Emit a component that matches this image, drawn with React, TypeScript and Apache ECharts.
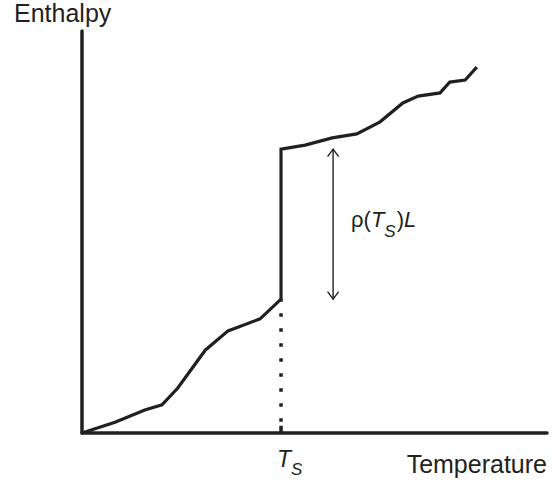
import { useEffect, useRef } from 'react';
import * as echarts from 'echarts';

// Temperature (x) and enthalpy (y) of the sketched curve, arbitrary units 0..100
const temperature = [0, 7.1, 13.5, 17.2, 20.6, 26.5, 31.4, 38.3, 42.8, 42.8, 48.0, 53.8, 59.1, 64.1, 69.0, 72.3, 77.0, 79.1, 82.4, 84.9];
const enthalpy = [0, 2.7, 5.7, 7.0, 11.2, 20.6, 25.4, 28.4, 33.3, 70.6, 71.6, 73.4, 74.4, 77.4, 82.1, 83.8, 84.6, 87.3, 87.8, 91.0];

// Melting temperature and the enthalpy jump
const meltingT = 42.8;
const enthalpyBelow = 33.3;
const enthalpyAbove = 70.6;
const arrowT = 54.0;

const yAxisName = 'Enthalpy';
const xAxisName = 'Temperature';

const INK = '#231f20';
const FONT = '"Liberation Sans", Arial, Helvetica, sans-serif';

export default function App() {
  const ref = useRef<HTMLDivElement>(null);
  useEffect(() => {
    if (!ref.current) return;
    const chart = echarts.init(ref.current, null, { renderer: 'svg' });
    const curve = temperature.map((t, i) => [t, enthalpy[i]]);
    chart.setOption({
      animation: false,
      backgroundColor: '#ffffff',
      grid: { left: 82, right: 5, top: 31, bottom: 51 },
      xAxis: {
        type: 'value', min: 0, max: 100,
        axisLine: { show: true, lineStyle: { color: INK, width: 3.5 } },
        axisTick: { show: false }, axisLabel: { show: false }, splitLine: { show: false },
      },
      yAxis: {
        type: 'value', min: 0, max: 100,
        axisLine: { show: true, lineStyle: { color: INK, width: 3.5 } },
        axisTick: { show: false }, axisLabel: { show: false }, splitLine: { show: false },
      },
      graphic: [
        {
          type: 'text', x: 14, y: 13,
          style: { text: yAxisName, font: `25px ${FONT}`, fill: INK, align: 'left', verticalAlign: 'middle' },
        },
        {
          type: 'text', x: 547, y: 464,
          style: { text: xAxisName, font: `25px ${FONT}`, fill: INK, align: 'right', verticalAlign: 'middle' },
        },
      ],
      series: [
        {
          type: 'line', data: curve, showSymbol: false, symbol: 'none', clip: false,
          lineStyle: { color: INK, width: 3.2, join: 'miter' }, z: 3,
        },
        {
          type: 'line', data: [[meltingT, enthalpyBelow], [meltingT, 0]], showSymbol: false, symbol: 'none', clip: false,
          lineStyle: { color: INK, width: 3.5, type: [3.5, 11.5], dashOffset: 1, cap: 'butt' }, z: 2,
        },
        {
          type: 'line', data: [[meltingT, 0], [meltingT, 1.8]], showSymbol: false, symbol: 'none', clip: false,
          lineStyle: { color: INK, width: 3.5 }, z: 2,
        },
        {
          type: 'custom', clip: false, z: 4,
          data: [[arrowT, enthalpyBelow, enthalpyAbove]],
          renderItem: (params: any, api: any) => {
            const top = api.coord([api.value(0), api.value(2)]);
            const bot = api.coord([api.value(0), api.value(1)]);
            const x = top[0];
            const hw = 5.5, hh = 7.5;
            const st = { stroke: INK, fill: 'none', lineWidth: 1.4 };
            return {
              type: 'group',
              children: [
                { type: 'line', shape: { x1: x, y1: top[1], x2: x, y2: bot[1] }, style: st },
                { type: 'polyline', shape: { points: [[x - hw, top[1] + hh], [x, top[1]], [x + hw, top[1] + hh]] }, style: st },
                { type: 'polyline', shape: { points: [[x - hw, bot[1] - hh], [x, bot[1]], [x + hw, bot[1] - hh]] }, style: st },
                {
                  type: 'text', x: x + 18, y: (top[1] + bot[1]) / 2 - 4.5,
                  style: {
                    text: '{n|ρ(}{i|T}{s|S}{n|)}{i|L}',
                    align: 'left', verticalAlign: 'middle', fill: INK,
                    rich: {
                      n: { fontSize: 22, fontFamily: FONT, fill: INK },
                      i: { fontSize: 22, fontFamily: FONT, fontStyle: 'italic', fill: INK },
                      s: { fontSize: 17, fontFamily: FONT, fontStyle: 'italic', fill: INK, padding: [24, 1, 0, 0] },
                    },
                  },
                },
              ],
            };
          },
        },
        {
          type: 'custom', clip: false, z: 4,
          data: [[meltingT, 0]],
          renderItem: (params: any, api: any) => {
            const p = api.coord([api.value(0), api.value(1)]);
            return {
              type: 'text', x: p[0] - 4, y: p[1] + 26,
              style: {
                text: '{i|T}{s|S}', align: 'left', verticalAlign: 'middle', fill: INK,
                rich: {
                  i: { fontSize: 23, fontFamily: FONT, fontStyle: 'italic', fill: INK },
                  s: { fontSize: 17, fontFamily: FONT, fontStyle: 'italic', fill: INK, padding: [21, 0, 0, 0] },
                },
              },
            };
          },
        },
      ],
    });
    return () => chart.dispose();
  }, []);
  return <div ref={ref} style={{ position: 'absolute', left: 0, top: 0, width: 552, height: 484 }} />;
}
